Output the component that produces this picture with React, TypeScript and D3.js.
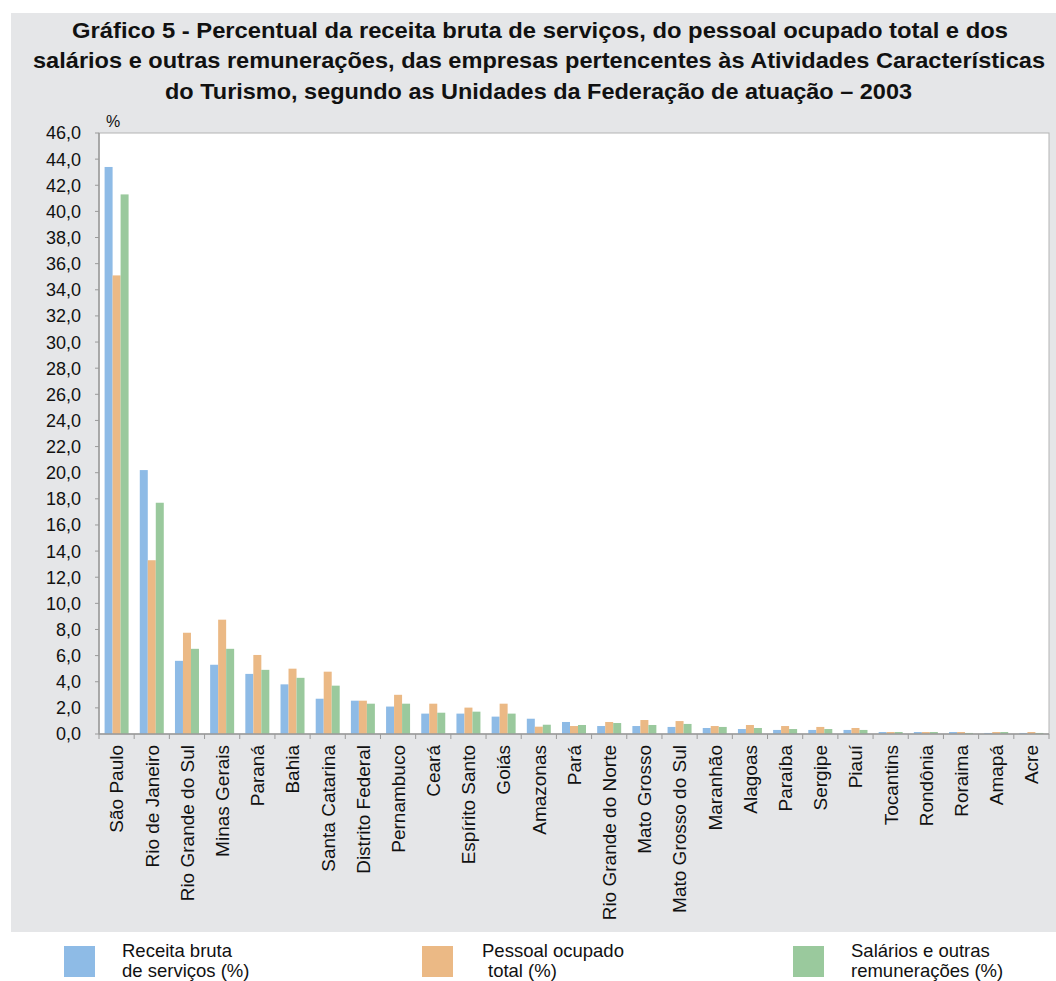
import React from "react";
import * as d3 from "d3";

const categories = [
  "São Paulo", "Rio de Janeiro", "Rio Grande do Sul", "Minas Gerais", "Paraná", "Bahia",
  "Santa Catarina", "Distrito Federal", "Pernambuco", "Ceará", "Espírito Santo", "Goiás",
  "Amazonas", "Pará", "Rio Grande do Norte", "Mato Grosso", "Mato Grosso do Sul", "Maranhão",
  "Alagoas", "Paraíba", "Sergipe", "Piauí", "Tocantins", "Rondônia", "Roraima", "Amapá", "Acre",
];

const receita = [43.4, 20.2, 5.6, 5.3, 4.6, 3.8, 2.7, 2.55, 2.1, 1.56, 1.56, 1.33, 1.17, 0.92, 0.61, 0.61, 0.54, 0.46, 0.38, 0.31, 0.31, 0.31, 0.15, 0.15, 0.15, 0.08, 0.08];
const pessoal = [35.1, 13.3, 7.75, 8.75, 6.05, 5.0, 4.77, 2.55, 3.0, 2.32, 2.02, 2.32, 0.56, 0.61, 0.92, 1.07, 0.99, 0.61, 0.69, 0.61, 0.54, 0.46, 0.15, 0.15, 0.15, 0.15, 0.15];
const salarios = [41.3, 17.7, 6.52, 6.52, 4.91, 4.3, 3.7, 2.32, 2.32, 1.63, 1.71, 1.56, 0.71, 0.69, 0.84, 0.69, 0.77, 0.54, 0.46, 0.38, 0.38, 0.31, 0.15, 0.15, 0.08, 0.15, 0.08];

const yTicks = d3.range(0, 46.01, 2);

const seriesNames = ["receita", "pessoal", "salarios"];
const seriesColors = ["#8ebbe6", "#ebb985", "#9ac99d"];
const seriesValues = [receita, pessoal, salarios];

const titleLines = [
  "Gráfico 5 - Percentual da receita bruta de serviços, do pessoal ocupado total e dos",
  "salários e outras remunerações, das empresas pertencentes às Atividades Características",
  "do Turismo, segundo as Unidades da Federação de atuação – 2003",
];

const legendItems = [
  { lines: ["Receita bruta", "de serviços (%)"], indent: [0, 0] },
  { lines: ["Pessoal ocupado", "total (%)"], indent: [0, 6] },
  { lines: ["Salários e outras", "remunerações (%)"], indent: [0, 0] },
];

export default function App() {
  const W = 1056, H = 981;
  const left = 99, right = 1049, top = 133, bottom = 734;
  const font = "'Liberation Sans', Arial, Helvetica, sans-serif";

  const y = d3.scaleLinear().domain([0, 46]).range([bottom, top]);
  const x0 = d3.scaleBand<string>().domain(categories).range([left, right]).paddingInner(0.318).paddingOuter(0.159);
  const x1 = d3.scaleBand<string>().domain(seriesNames).range([0, x0.bandwidth()]).padding(0);
  const step = x0.step();

  const titleX = [72, 33, 165];
  const titleLen = [936, 1012, 747];
  const titleY = [38, 68, 99];

  const legendSquareX = [64, 422, 793];
  const legendTextX = [122, 482, 851];

  return (
    <svg width={W} height={H} style={{ display: "block", position: "absolute", left: 0, top: 0 }}>
      <rect x={0} y={0} width={W} height={H} fill="#ffffff" />
      <rect x={11} y={13} width={W - 11} height={932 - 13} fill="#e5e6e8" />
      {titleLines.map((t, i) => (
        <text key={i} x={titleX[i]} y={titleY[i]} fontFamily={font} fontWeight="bold" fontSize={22}
          textLength={titleLen[i]} lengthAdjust="spacingAndGlyphs" fill="#111">{t}</text>
      ))}
      <rect x={left} y={top} width={right - left} height={bottom - top} fill="#ffffff" stroke="#b4b4b4" strokeWidth={1} />
      <text x={106} y={127} fontFamily={font} fontSize={16} fill="#111">%</text>
      {categories.map((c, i) => (
        <g key={c} transform={`translate(${x0(c)},0)`}>
          {seriesNames.map((s, j) => {
            const v = seriesValues[j][i];
            return (
              <rect key={s} x={x1(s)} y={y(v)} width={x1.bandwidth()} height={y(0) - y(v)} fill={seriesColors[j]} />
            );
          })}
        </g>
      ))}
      <line x1={left} x2={left} y1={top} y2={bottom} stroke="#9a9a9a" strokeWidth={1.5} />
      {yTicks.map((t) => (
        <g key={t}>
          <line x1={left - 4} x2={left} y1={y(t)} y2={y(t)} stroke="#9a9a9a" strokeWidth={1} />
          <text x={81} y={y(t)} dy="0.36em" textAnchor="end" fontFamily={font} fontSize={18} fill="#111">
            {d3.format(".1f")(t).replace(".", ",")}
          </text>
        </g>
      ))}
      <line x1={left} x2={right} y1={bottom} y2={bottom} stroke="#9a9a9a" strokeWidth={1.5} />
      {d3.range(categories.length + 1).map((k) => (
        <line key={k} x1={left + k * step} x2={left + k * step} y1={bottom} y2={bottom + 5} stroke="#9a9a9a" strokeWidth={1} />
      ))}
      {categories.map((c) => {
        const cx = (x0(c) as number) + x0.bandwidth() / 2;
        return (
          <text key={c} transform={`translate(${cx},745) rotate(-90)`} textAnchor="end" dy="0.36em"
            fontFamily={font} fontSize={19} fill="#111">{c}</text>
        );
      })}
      {legendItems.map((it, i) => (
        <g key={i}>
          <rect x={legendSquareX[i]} y={946} width={31} height={31} fill={seriesColors[i]} />
          {it.lines.map((l, k) => (
            <text key={k} x={legendTextX[i] + it.indent[k]} y={957 + k * 20} fontFamily={font} fontSize={18.5} fill="#111">{l}</text>
          ))}
        </g>
      ))}
    </svg>
  );
}
